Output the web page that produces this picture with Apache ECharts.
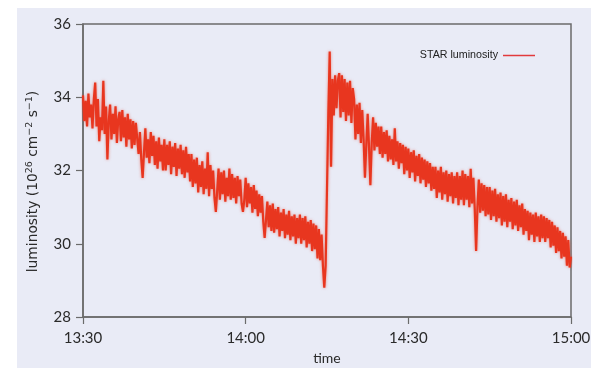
<!DOCTYPE html>
<html>
<head>
<meta charset="utf-8">
<script src="https://cdn.jsdelivr.net/npm/echarts@6/dist/echarts.min.js"></script>
<style>
html,body{margin:0;padding:0;background:#fff;}
#chart{width:591px;height:368px;}
</style>
</head>
<body>
<div id="chart"></div>
<script>
// Time axis: minutes after 13:30, sampled every 0.25 min
var stepMinutes = 0.25;
var tickLabels = ['13:30', '14:00', '14:30', '15:00'];
var seriesName = 'STAR luminosity';
var xAxisTitle = 'time';

// luminosity readings (10^26 cm^-2 s^-1)
var luminosity = [
  34.05, 33.35, 33.9, 33.2, 34.1, 33.45, 33.8, 33.15, 33.95, 34.4, 33.2, 33.95, 32.8, 33.45, 33.1, 34.45, 33.0, 33.75, 32.3, 33.35,
  33.8, 32.85, 33.55, 33.0, 33.75, 32.75, 33.4, 33.6, 32.8, 33.65, 32.9, 33.45, 32.65, 33.55, 32.85, 33.4, 32.6, 33.35, 32.7, 33.3,
  33.25, 32.45, 33.05, 32.3, 31.8, 32.5, 33.15, 32.35, 32.85, 32.2, 33.05, 32.4, 32.95, 32.15, 32.8, 32.05, 32.9, 32.25, 32.7, 32.0,
  32.85, 32.0, 32.7, 32.15, 32.8, 31.9, 32.65, 32.1, 32.75, 31.85, 32.6, 32.05, 32.7, 31.9, 32.55, 31.8, 32.65, 31.95, 32.45, 31.7,
  32.45, 31.55, 32.3, 31.65, 32.35, 31.4, 32.15, 31.55, 32.25, 31.35, 32.05, 31.5, 32.5, 31.3, 32.15, 31.5, 32.0, 31.25, 30.87, 31.45,
  32.05, 31.2, 31.95, 31.35, 32.0, 31.15, 31.8, 31.3, 32.05, 31.2, 31.9, 31.25, 31.8, 31.1, 31.85, 31.3, 31.75, 31.1, 30.87, 31.2,
  31.8, 31.0, 31.65, 31.1, 31.55, 30.85, 31.6, 30.95, 31.45, 30.75, 31.35, 30.85, 31.3, 30.6, 30.16, 30.65, 31.15, 30.45, 31.05, 30.35,
  31.1, 30.3, 30.95, 30.4, 31.0, 30.2, 30.85, 30.35, 30.95, 30.15, 30.8, 30.25, 30.9, 30.1, 30.75, 30.2, 30.8, 30.0, 30.7, 30.15,
  30.8, 30.0, 30.7, 30.1, 30.75, 29.9, 30.6, 30.0, 30.65, 29.8, 30.55, 29.85, 30.5, 29.6, 30.4, 29.55, 30.25, 29.4, 28.8, 29.4,
  31.5, 33.6, 35.25, 32.1, 34.5, 33.5, 34.6, 33.7, 34.45, 34.66, 33.45, 34.6, 33.6, 34.5, 33.35, 34.4, 33.5, 34.45, 33.3, 34.25,
  33.95, 32.85, 33.8, 33.0, 33.85, 32.75, 33.65, 32.85, 31.8, 32.7, 33.55, 32.65, 31.6, 32.75, 33.45, 32.55, 33.3, 32.65, 33.2, 32.45,
  33.2, 32.35, 33.05, 32.45, 33.1, 32.25, 32.95, 32.3, 32.85, 32.15, 33.15, 32.25, 32.8, 32.05, 32.75, 32.2, 32.7, 31.9, 32.65, 32.0,
  32.6, 31.8, 32.5, 31.95, 32.55, 31.7, 32.4, 31.85, 32.45, 31.65, 32.35, 31.75, 32.3, 31.55, 32.25, 31.65, 32.2, 31.45, 32.1, 31.5,
  32.1, 31.25, 32.0, 31.4, 32.1, 31.2, 31.95, 31.35, 32.0, 31.15, 31.9, 31.3, 31.95, 31.1, 31.85, 31.25, 31.95, 31.05, 31.85, 31.2,
  32.0, 31.05, 31.9, 31.2, 31.85, 31.0, 32.05, 31.1, 31.8, 30.95, 29.8, 31.0, 31.75, 30.85, 31.65, 30.9, 31.6, 30.75, 31.55, 30.8,
  31.55, 30.65, 31.45, 30.75, 31.5, 30.6, 31.35, 30.7, 31.4, 30.5, 31.3, 30.6, 31.35, 30.45, 31.2, 30.6, 31.25, 30.4, 31.15, 30.5,
  31.2, 30.35, 31.05, 30.45, 31.1, 30.25, 30.95, 30.35, 30.9, 30.1, 30.85, 30.25, 30.8, 30.05, 30.85, 30.2, 30.75, 30.05, 30.8, 30.15,
  30.75, 30.05, 30.7, 30.15, 30.65, 29.9, 30.6, 29.95, 30.5, 29.75, 30.45, 29.8, 30.35, 29.6, 30.3, 29.65, 30.2, 29.4, 30.1, 29.35,
  29.65
];

var points = luminosity.map(function (v, i) { return [i * stepMinutes, v]; });

var chart = echarts.init(document.getElementById('chart'), null, {renderer: 'canvas'});
var axisColor = '#6b6b6b';
var textColor = '#2a2a2a';
var font = 'Lato, "Open Sans", sans-serif';
var titleFont = '"DejaVu Sans", sans-serif';

chart.setOption({
  backgroundColor: '#ffffff',
  animation: false,
  graphic: [{
    type: 'rect',
    left: 17, top: 8,
    shape: {width: 574, height: 360},
    style: {fill: '#e9ebf6'},
    z: -10
  }],
  grid: {
    left: 83, top: 24, right: 20, bottom: 51,
    outerBoundsMode: 'none',
    containLabel: false,
    show: true,
    borderColor: axisColor,
    borderWidth: 1.5,
    backgroundColor: 'transparent'
  },
  legend: {
    data: [seriesName],
    right: 56, top: 50,
    padding: 0,
    align: 'right',
    icon: 'rect',
    itemWidth: 32, itemHeight: 1.5,
    textStyle: {fontFamily: '"Liberation Sans", Arial, sans-serif', fontSize: 10.7, color: '#222'}
  },
  xAxis: {
    type: 'value',
    min: 0, max: 90, interval: 30,
    name: xAxisTitle,
    nameLocation: 'middle',
    nameGap: 34,
    nameTextStyle: {fontFamily: font, fontSize: 14, color: textColor},
    axisLine: {show: true, lineStyle: {color: axisColor, width: 1.5}},
    axisTick: {show: true, length: 7, lineStyle: {color: axisColor, width: 1.2}},
    splitLine: {show: false},
    axisLabel: {
      margin: 14,
      fontFamily: font, fontSize: 15, color: textColor,
      formatter: function (v) { return tickLabels[Math.round(v / 30)]; }
    }
  },
  yAxis: {
    type: 'value',
    min: 28, max: 36, interval: 2,
    name: 'luminosity (10{sup|26} cm{sup|\u22122} s{sup|\u22121})',
    nameLocation: 'middle',
    nameGap: 38,
    nameTextStyle: {
      fontFamily: titleFont, fontSize: 13.8, color: textColor, lineHeight: 18,
      padding: [0, 22, 0, 0],
      rich: {
        sup: {fontFamily: titleFont, fontSize: 9.5, color: textColor, verticalAlign: 'top', lineHeight: 18, padding: [0, 0, 6, 0]}
      }
    },
    axisLine: {show: true, lineStyle: {color: axisColor, width: 1.5}},
    axisTick: {show: true, length: 7, lineStyle: {color: axisColor, width: 1.2}},
    splitLine: {show: false},
    axisLabel: {margin: 12, fontFamily: font, fontSize: 15, color: textColor}
  },
  series: [{
    name: seriesName,
    type: 'line',
    data: points,
    showSymbol: false,
    symbol: 'none',
    sampling: null,
    lineStyle: {
      color: '#e8361f', width: 2.2,
      shadowBlur: 3, shadowColor: 'rgba(232,54,31,0.55)'
    },
    itemStyle: {color: '#e23a3c'}
  }]
});
</script>
</body>
</html>
